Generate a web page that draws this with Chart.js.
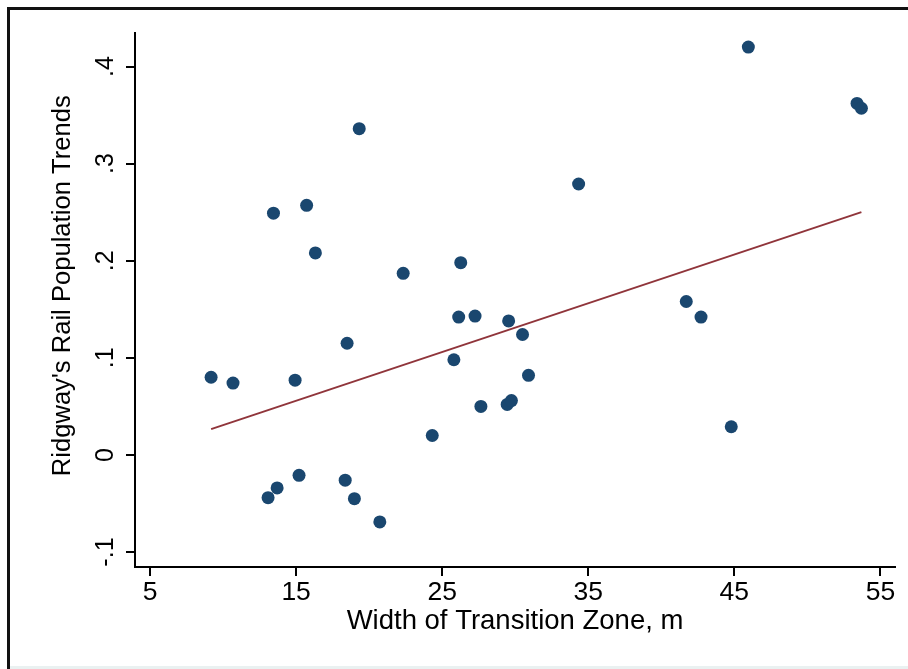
<!DOCTYPE html>
<html>
<head>
<meta charset="utf-8">
<script src="https://cdn.jsdelivr.net/npm/chart.js@4.4.1/dist/chart.umd.min.js"></script>
<style>
  html, body { margin: 0; padding: 0; background: #fff; overflow: hidden; }
  #frame { position: absolute; left: 7px; top: 7px; width: 1000px; height: 1000px; border: 3px solid #111; }
  #strip { position: absolute; left: 10px; top: 666px; width: 900px; height: 3px; background: #eaf1f1; }
  #chart { position: absolute; left: 0; top: 0; }
</style>
</head>
<body>
<div id="frame"></div>
<div id="strip"></div>
<canvas id="chart" width="908" height="669"></canvas>
<script>
// width of transition zone (m) and population trend
var zoneWidth = [9.18, 10.68, 13.08, 13.45, 13.70, 14.93, 15.20, 15.72, 16.32, 18.36, 18.49,
                 18.99, 19.32, 20.73, 22.33, 24.32, 25.80, 26.13, 26.27, 27.25, 27.65, 29.45,
                 29.55, 29.74, 30.50, 30.91, 34.34, 41.71, 42.72, 44.79, 45.96, 53.40, 53.70];
var popTrend = [0.080, 0.074, -0.044, 0.249, -0.034, 0.077, -0.021, 0.257, 0.208, -0.026, 0.115,
                -0.045, 0.336, -0.069, 0.187, 0.020, 0.098, 0.142, 0.198, 0.143, 0.050, 0.052,
                0.138, 0.056, 0.124, 0.082, 0.279, 0.158, 0.142, 0.029, 0.420, 0.362, 0.357];

// linear fit endpoints
var fitX = [9.18, 53.70];
var fitY = [0.0266, 0.2500];

var xTicks = [5, 15, 25, 35, 45, 55];
var xTickLabels = ["5", "15", "25", "35", "45", "55"];
var yTicks = [-0.1, 0, 0.1, 0.2, 0.3, 0.4];
var yTickLabels = ["-.1", "0", ".1", ".2", ".3", ".4"];

var pts = zoneWidth.map(function(v, i) { return { x: v, y: popTrend[i] }; });
var fitPts = fitX.map(function(v, i) { return { x: v, y: fitY[i] }; });

Chart.defaults.font.family = "'Liberation Sans', Arial, Helvetica, sans-serif";
Chart.defaults.color = "#000";

var gridOpts = { drawOnChartArea: false, drawTicks: true, tickLength: 9, tickColor: "#000", lineWidth: 2 };
var borderOpts = { display: true, color: "#000", width: 2 };

new Chart(document.getElementById("chart"), {
    type: "scatter",
    data: {
        datasets: [{
            type: "line",
            data: fitPts,
            borderColor: "#90353b",
            borderWidth: 2,
            pointRadius: 0,
            fill: false,
            order: 0
        }, {
            data: pts,
            backgroundColor: "#1a476f",
            borderWidth: 0,
            pointRadius: 6.5,
            order: 1
        }]
    },
    options: {
        responsive: false,
        animation: false,
        layout: { padding: { left: 30, top: 33, right: 13, bottom: 20 } },
        plugins: { legend: { display: false }, tooltip: { enabled: false } },
        scales: {
            x: {
                type: "linear",
                position: "bottom",
                min: 3.97,
                max: 56.0,
                afterBuildTicks: function(s) { s.ticks = xTicks.map(function(v) { return { value: v }; }); },
                afterFit: function(s) { s.height = 82; },
                ticks: {
                    autoSkip: false,
                    maxRotation: 0,
                    padding: 1,
                    font: { size: 26.5 },
                    color: "#000",
                    callback: function(v, i) { return xTickLabels[i]; }
                },
                grid: gridOpts,
                border: borderOpts,
                title: {
                    display: true,
                    text: "Width of Transition Zone, m",
                    font: { size: 27.5 },
                    color: "#000",
                    padding: { top: 0, bottom: 11 }
                }
            },
            y: {
                type: "linear",
                min: -0.1154,
                max: 0.4345,
                afterBuildTicks: function(s) { s.ticks = yTicks.map(function(v) { return { value: v }; }); },
                afterFit: function(s) { s.width = 105; },
                ticks: {
                    autoSkip: false,
                    minRotation: 90,
                    maxRotation: 90,
                    crossAlign: "center",
                    padding: 5,
                    font: { size: 25 },
                    color: "#000",
                    callback: function(v, i) { return yTickLabels[i]; }
                },
                grid: gridOpts,
                border: borderOpts,
                title: {
                    display: true,
                    text: "    Ridgway's Rail Population Trends",
                    font: { size: 25.6 },
                    color: "#000",
                    padding: { top: 18, bottom: 0 }
                }
            }
        }
    }
});
</script>
</body>
</html>
